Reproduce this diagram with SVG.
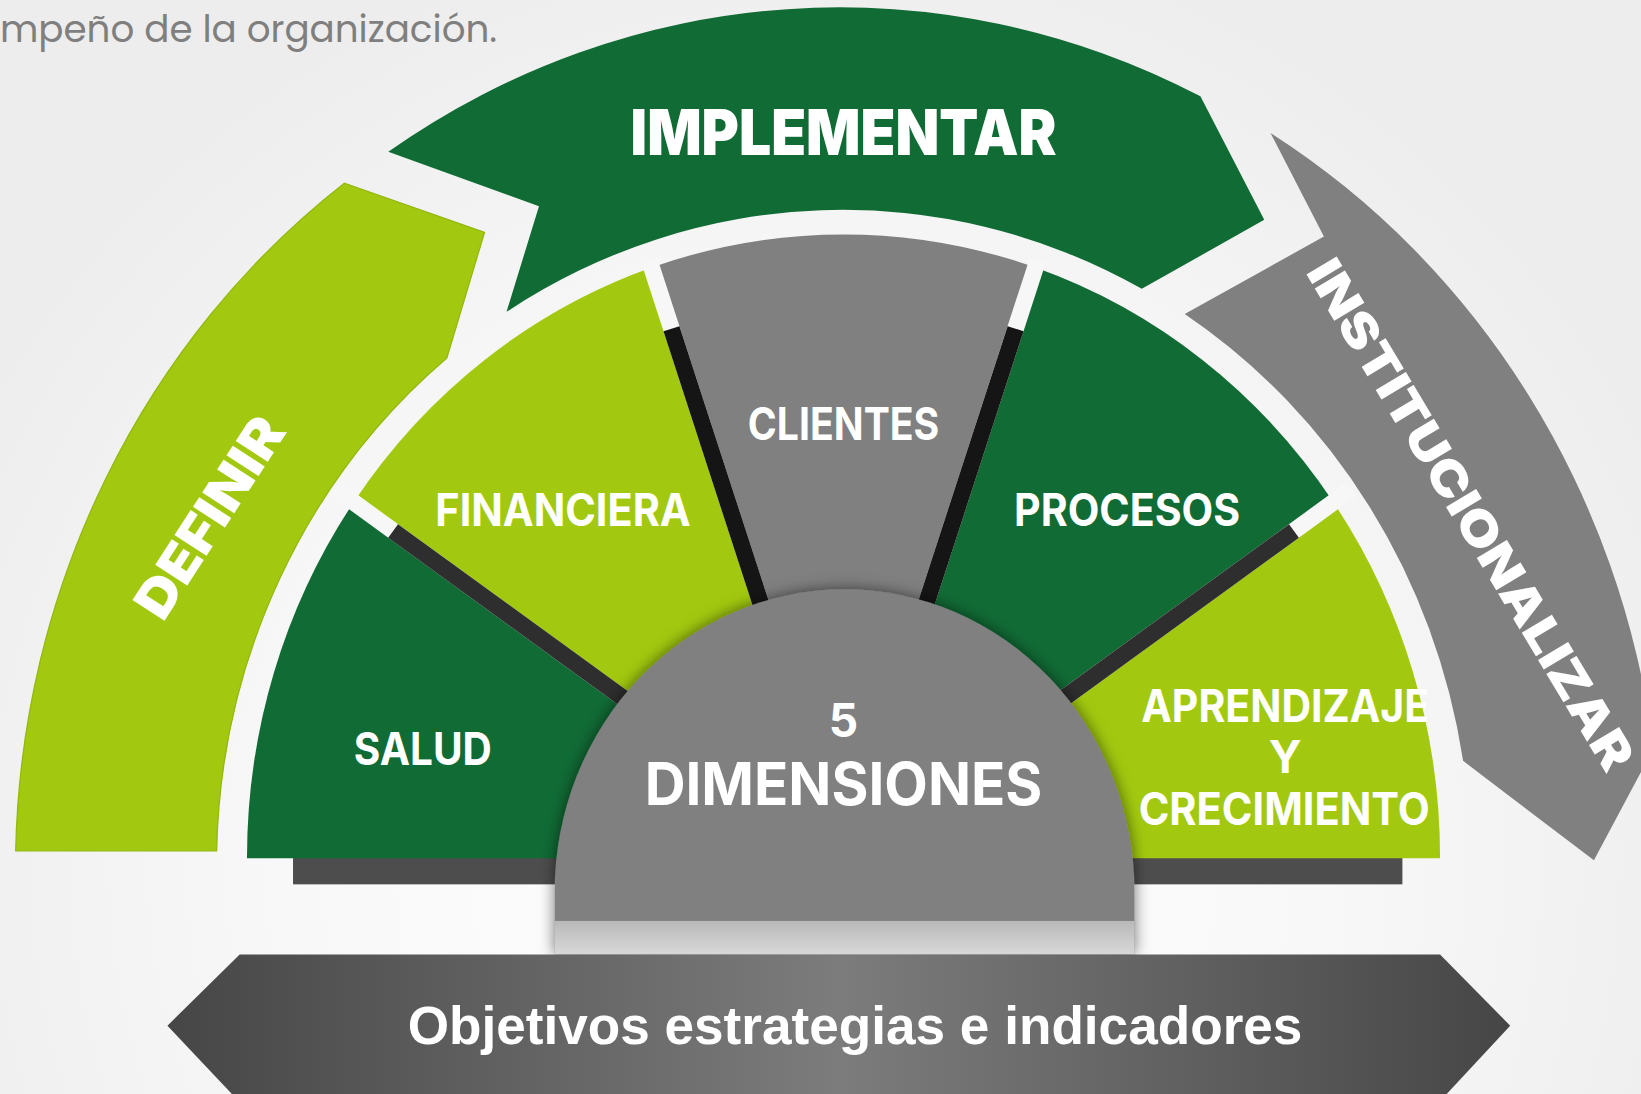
<svg xmlns="http://www.w3.org/2000/svg" width="1641" height="1094" viewBox="0 0 1641 1094">
  <defs>
    <radialGradient id="bg" cx="806" cy="860" r="950" gradientUnits="userSpaceOnUse">
      <stop offset="0" stop-color="#ffffff"/>
      <stop offset="0.55" stop-color="#f8f8f8"/>
      <stop offset="1" stop-color="#ededed"/>
    </radialGradient>
    <linearGradient id="banner" x1="0" y1="0" x2="1" y2="0">
      <stop offset="0" stop-color="#464646"/>
      <stop offset="0.5" stop-color="#7c7c7c"/>
      <stop offset="1" stop-color="#464646"/>
    </linearGradient>
    <linearGradient id="domeBase" x1="0" y1="0" x2="0" y2="1">
      <stop offset="0" stop-color="#b9b9b9"/>
      <stop offset="1" stop-color="#d8d8d8"/>
    </linearGradient>
    <filter id="shadow" x="-20%" y="-20%" width="140%" height="140%">
      <feDropShadow dx="0" dy="0" stdDeviation="7" flood-color="#000" flood-opacity="0.55"/>
    </filter>
    <style>
      .lg { fill: #a2c90f; }
      .dg { fill: #116b35; }
      .gr { fill: #808080; }
      .lbl { font-family: Inter, "Open Sans", "Liberation Sans", sans-serif; font-weight: 700; fill: #ffffff; text-anchor: middle; }
      .big { font-family: Inter, "Open Sans", "Liberation Sans", sans-serif; font-weight: 900; fill: #ffffff; text-anchor: middle; }
      .gap { stroke: #f7f7f7; stroke-width: 16; stroke-linecap: butt; }
      .sepT { stroke: #151515; stroke-width: 16; stroke-linecap: butt; }
      .sepS { stroke: #2e2e2e; stroke-width: 16; stroke-linecap: butt; }
    </style>
  </defs>
  <rect x="0" y="0" width="1641" height="1094" fill="url(#bg)"/>
  <g transform="scale(1.04656)">
    <text x="0" y="40" font-family="Poppins, Inter, 'Open Sans', sans-serif" font-weight="400" font-size="36" fill="#7f7f7f" textLength="475" lengthAdjust="spacingAndGlyphs">mpeño de la organización.</text>

    <rect id="base-bar" x="280" y="818" width="1060" height="27" fill="#4d4d4d"/>

    <g id="salud">
      <path class="dg" d="M 806,820 L 236,820 A 570 595 0 0 1 337.9,479.9 Z"/>
      <text class="lbl" x="404" y="731" font-size="43" textLength="132" lengthAdjust="spacingAndGlyphs">SALUD</text>
    </g>
    <g id="financiera">
      <path class="lg" d="M 806,820 L 337.9,479.9 A 570 595 0 0 1 622.6,255.6 Z"/>
      <text class="lbl" x="538" y="503" font-size="43" textLength="244" lengthAdjust="spacingAndGlyphs">FINANCIERA</text>
    </g>
    <g id="clientes">
      <path class="gr" d="M 806,820 L 622.6,255.6 A 570 595 0 0 1 989.4,255.6 Z"/>
      <text class="lbl" x="806" y="420" font-size="43" textLength="183" lengthAdjust="spacingAndGlyphs">CLIENTES</text>
    </g>
    <g id="procesos">
      <path class="dg" d="M 806,820 L 989.4,255.6 A 570 595 0 0 1 1274.1,479.9 Z"/>
      <text class="lbl" x="1077" y="503" font-size="43" textLength="216" lengthAdjust="spacingAndGlyphs">PROCESOS</text>
    </g>
    <g id="aprendizaje">
      <path class="lg" d="M 806,820 L 1274.1,479.9 A 570 595 0 0 1 1376,820 Z"/>
      <text class="lbl" x="1228" y="690" font-size="43" textLength="275" lengthAdjust="spacingAndGlyphs">APRENDIZAJE</text>
      <text class="lbl" x="1228" y="739" font-size="43">Y</text>
      <text class="lbl" x="1227" y="788" font-size="43" textLength="278" lengthAdjust="spacingAndGlyphs">CRECIMIENTO</text>
    </g>

    <g id="separators">
      <line class="gap" x1="806" y1="820" x2="1291.4" y2="467.3"/>
      <line class="gap" x1="806" y1="820" x2="991.4" y2="249.4"/>
      <line class="gap" x1="806" y1="820" x2="620.6" y2="249.4"/>
      <line class="gap" x1="806" y1="820" x2="320.6" y2="467.3"/>
      <line class="sepS" x1="806" y1="820" x2="1236.4" y2="507.3"/>
      <line class="sepT" x1="806" y1="820" x2="970.4" y2="314.1"/>
      <line class="sepT" x1="806" y1="820" x2="641.6" y2="314.1"/>
      <line class="sepS" x1="806" y1="820" x2="375.6" y2="507.3"/>
    </g>

    <g id="definir">
      <path class="lg" stroke="#93b80c" stroke-width="1.2" d="M 15,813 A 785 820 0 0 1 329,175 L 463,222 L 427,342 A 599 626 0 0 0 207,813 Z"/>
      <text class="big" font-size="50" textLength="218" lengthAdjust="spacingAndGlyphs" transform="translate(200,494) rotate(-57)" y="18">DEFINIR</text>
    </g>

    <g id="implementar">
      <path class="dg" d="M 371,145 A 771 806 0 0 1 1147,92 L 1208,210 L 1091,276 A 595 615 0 0 0 484,298 L 515,197 Z"/>
      <text class="big" x="806" y="148" font-size="60" textLength="407" lengthAdjust="spacingAndGlyphs">IMPLEMENTAR</text>
    </g>

    <g id="institucionalizar">
      <path class="gr" d="M 1214,127 A 780 815 0 0 1 1580,715 L 1523,822 L 1398,727 A 599 626 0 0 0 1132,300 L 1265,226 Z"/>
      <text class="big" font-size="46" textLength="560" lengthAdjust="spacingAndGlyphs" transform="translate(1405,492) rotate(59)" y="16">INSTITUCIONALIZAR</text>
    </g>

    <g id="dimensiones">
      <path class="gr" filter="url(#shadow)" d="M 530,912 L 530,852 A 277 289 0 0 1 1084,852 L 1084,912 Z"/>
      <rect x="530" y="880" width="554" height="32" fill="url(#domeBase)"/>
      <text class="lbl" x="806" y="704" font-size="44">5</text>
      <text class="lbl" x="806" y="769" font-size="56" textLength="380" lengthAdjust="spacingAndGlyphs">DIMENSIONES</text>
    </g>

    <g id="objetivos">
      <path fill="url(#banner)" d="M 229,912 L 1376,912 L 1443,980 L 1378,1050 L 226,1050 L 160,980 Z"/>
      <text x="817" y="998" font-family="'Liberation Sans', Arial, sans-serif" font-weight="700" font-size="52" fill="#ffffff" text-anchor="middle" textLength="855" lengthAdjust="spacingAndGlyphs">Objetivos estrategias e indicadores</text>
    </g>
  </g>
</svg>
